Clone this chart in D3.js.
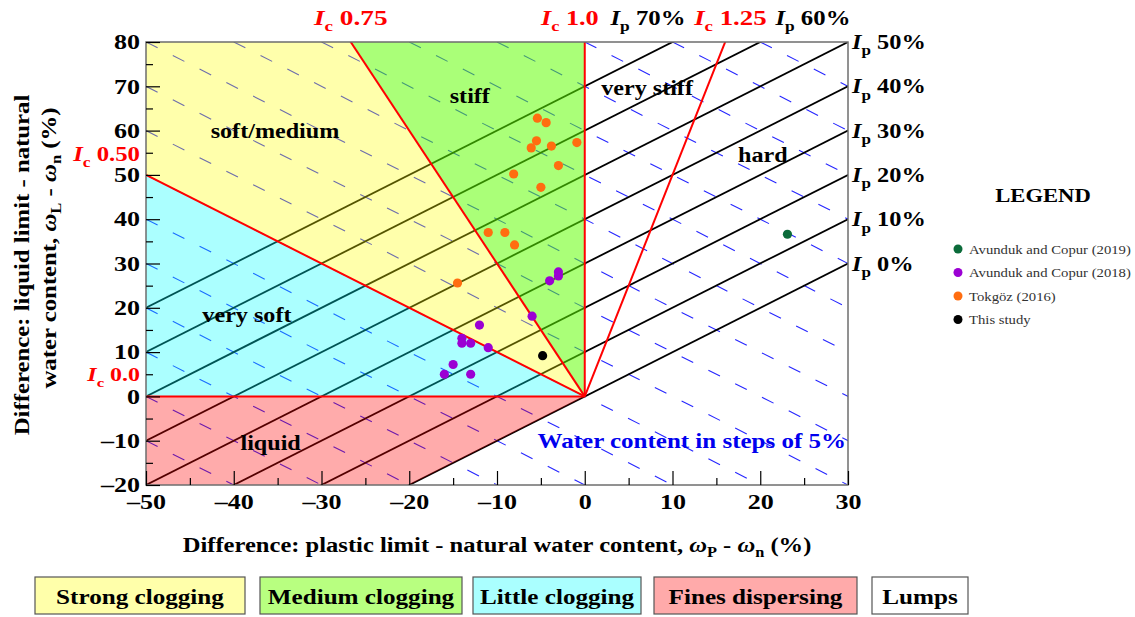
<!DOCTYPE html>
<html>
  <head>
    <meta charset="utf-8" />
    <title>Consistency chart</title>
    <script src="https://cdn.jsdelivr.net/npm/d3@7"></script>
    <style>
      body { margin: 0; background: #fff; }
      svg { display: block; font-family: "Liberation Serif", "Times New Roman", serif; }
    </style>
  </head>
  <body>
    <div id="canvas"></div>
    <script>
      // data (x = wP - wn, y = wL - wn)
      const tokgoz2016 = [
        [-5.4, 62.8], [-4.4, 61.8], [-5.5, 57.7], [-6.1, 56.1], [-3.8, 56.5],
        [-0.9, 57.3], [-3.0, 52.1], [-8.1, 50.2], [-5.0, 47.2], [-11.0, 37.0],
        [-9.1, 37.0], [-8.0, 34.2], [-14.5, 25.6]
      ];
      const avunduk2018 = [
        [-3.0, 28.1], [-3.0, 27.2], [-4.0, 26.1], [-6.0, 18.1], [-12.0, 16.1],
        [-14.0, 13.1], [-14.0, 12.0], [-13.0, 12.0], [-11.0, 11.0], [-15.0, 7.2],
        [-16.0, 5.0], [-13.0, 5.0]
      ];
      const avunduk2019 = [[23.1, 36.6]];
      const thisStudy = [[-4.8, 9.2]];

      const xTicks = [-50, -40, -30, -20, -10, 0, 10, 20, 30];
      const yTicks = [-20, -10, 0, 10, 20, 30, 40, 50, 60, 70, 80];
      const ipLevels = [0, 10, 20, 30, 40, 50, 60, 70];
      const ipLabels = [0, 10, 20, 30, 40, 50];
      const icLevels = [0, 0.5, 0.75, 1.0, 1.25];
      const waterOffsets = [-70, -60, -50, -40, -30, -20, -10, 0, 10, 20, 30, 40, 50, 60, 70, 80, 90, 100, 110, 120, 130];

      const zones = [
        { name: "strong", fill: "#ffff00", op: 0.33, pts: [[0, 0], [-50, 50], [-50, 80], [-80 / 3, 80]] },
        { name: "medium", fill: "#5eff00", op: 0.53, pts: [[0, 0], [-80 / 3, 80], [0, 80]] },
        { name: "little", fill: "#00ffff", op: 0.33, pts: [[0, 0], [-50, 0], [-50, 50]] },
        { name: "fines", fill: "#ff0000", op: 0.33, pts: [[0, 0], [-20, -20], [-50, -20], [-50, 0]] }
      ];

      const zoneLabels = [
        { t: "soft/medium", x: -35.3, y: 59.9 },
        { t: "stiff", x: -13.1, y: 68 },
        { t: "very stiff", x: 7.1, y: 69.8 },
        { t: "hard", x: 20.3, y: 54.5 },
        { t: "very soft", x: -38.5, y: 18.4 },
        { t: "liquid", x: -35.8, y: -10.5 }
      ];

      const legendItems = [
        { t: "Avunduk and Copur (2019)", c: "#0b6b3a", d: avunduk2019 },
        { t: "Avunduk and Copur (2018)", c: "#9b00d3", d: avunduk2018 },
        { t: "Tokgöz (2016)", c: "#ff6d10", d: tokgoz2016 },
        { t: "This study", c: "#000000", d: thisStudy }
      ];

      const boxes = [
        { t: "Strong clogging", c: "#ffffaa", x0: 35, x1: 245 },
        { t: "Medium clogging", c: "#b8ff80", x0: 260, x1: 462 },
        { t: "Little clogging", c: "#aaffff", x0: 473, x1: 641 },
        { t: "Fines dispersing", c: "#ffaaaa", x0: 654, x1: 857 },
        { t: "Lumps", c: "#ffffff", x0: 872, x1: 968 }
      ];

      const width = 1135, height = 617;
      const x = d3.scaleLinear().domain([-50, 30]).range([146, 848]);
      const y = d3.scaleLinear().domain([-20, 80]).range([485, 42]);

      // the original lettering is wider than Liberation Serif, stretch it a bit
      function stretch(t, sx, rot) {
        const x0 = +t.attr("x") || 0, y0 = +t.attr("y") || 0;
        t.attr("x", 0).attr("y", 0)
          .attr("transform", `translate(${x0},${y0})${rot ? " rotate(" + rot + ")" : ""} scale(${sx},1)`);
        return t;
      }

      const svg = d3.select("#canvas").append("svg")
        .attr("width", width).attr("height", height)
        .attr("viewBox", [0, 0, width, height]);

      svg.append("defs").append("clipPath").attr("id", "plotclip")
        .append("rect")
        .attr("x", x(-50)).attr("y", y(80))
        .attr("width", x(30) - x(-50)).attr("height", y(-20) - y(80));

      const plot = svg.append("g").attr("clip-path", "url(#plotclip)");
      const line = d3.line().x((d) => x(d[0])).y((d) => y(d[1]));

      // water content lines (x + y = const), dashes start where they enter the frame
      plot.append("g")
        .selectAll("path").data(waterOffsets).join("path")
        .attr("d", (c) => {
          const start = c + 50 <= 80 ? [-50, c + 50] : [c - 80, 80];
          return line([start, [start[0] + 100, start[1] - 100]]);
        })
        .attr("fill", "none")
        .attr("stroke", "#2626ff")
        .attr("stroke-width", 1.1)
        .attr("stroke-dasharray", "13,17");

      // Ip lines (y = x + Ip)
      plot.append("g")
        .selectAll("path").data(ipLevels).join("path")
        .attr("d", (ip) => line([[-100, -100 + ip], [100, 100 + ip]]))
        .attr("fill", "none")
        .attr("stroke", "#000")
        .attr("stroke-width", 1.8);

      // zones, semi transparent so the lines show through tinted
      plot.append("g")
        .selectAll("path").data(zones).join("path")
        .attr("d", (d) => line(d.pts) + "Z")
        .attr("fill", (d) => d.fill)
        .attr("fill-opacity", (d) => d.op);

      // Ic lines: y = x * Ic / (Ic - 1)
      plot.append("g")
        .selectAll("path").data(icLevels).join("path")
        .attr("d", (ic) => {
          if (ic === 1) return line([[0, 0], [0, 200]]);
          const xe = ic < 1 ? -100 : 100;
          return line([[0, 0], [xe, xe * ic / (ic - 1)]]);
        })
        .attr("fill", "none")
        .attr("stroke", "#ff0000")
        .attr("stroke-width", 2);

      // points
      legendItems.forEach((s) => {
        plot.append("g")
          .selectAll("circle").data(s.d).join("circle")
          .attr("cx", (d) => x(d[0]))
          .attr("cy", (d) => y(d[1]))
          .attr("r", 4.6)
          .attr("fill", s.c);
      });

      // frame + ticks (inside)
      svg.append("rect")
        .attr("x", x(-50)).attr("y", y(80))
        .attr("width", x(30) - x(-50)).attr("height", y(-20) - y(80))
        .attr("fill", "none").attr("stroke", "#6e6e6e").attr("stroke-width", 1.5);

      const fmt = (d) => (d < 0 ? "–" + Math.abs(d) : d);
      const gx = svg.append("g").attr("transform", `translate(0,${y(-20)})`)
        .call(d3.axisBottom(x).tickValues(xTicks).tickSize(-14).tickPadding(20).tickFormat(fmt));
      const gxm = svg.append("g").attr("transform", `translate(0,${y(-20)})`)
        .call(d3.axisBottom(x).tickValues([-45, -35, -25, -15, -5, 5, 15, 25]).tickSize(-7).tickFormat(""));
      const gy = svg.append("g").attr("transform", `translate(${x(-50)},0)`)
        .call(d3.axisLeft(y).tickValues(yTicks).tickSize(-14).tickPadding(6).tickFormat(fmt));
      const gym = svg.append("g").attr("transform", `translate(${x(-50)},0)`)
        .call(d3.axisLeft(y).tickValues([-15, -5, 5, 15, 25, 35, 45, 55, 65, 75]).tickSize(-7).tickFormat(""));
      [gx, gxm, gy, gym].forEach((g) => {
        g.select(".domain").remove();
        g.selectAll("line").attr("stroke", "#000").attr("stroke-width", 1.2);
        g.selectAll("text").attr("fill", "#000")
          .attr("font-family", "Liberation Serif").attr("font-weight", "bold").attr("font-size", 21)
          .each(function () { stretch(d3.select(this), 1.24); });
      });
      gx.selectAll("text").attr("dy", "0.2em");

      // helper for I_c / I_p style labels
      function symLabel(g, sym, sub, rest, color, size, anchor) {
        const t = g.append("text").attr("fill", color).attr("font-size", size)
          .attr("font-weight", "bold").attr("text-anchor", anchor || "start");
        t.append("tspan").attr("font-style", "italic").text(sym);
        t.append("tspan").attr("font-size", size * 0.7).attr("dy", size * 0.3).text(sub);
        t.append("tspan").attr("dy", -size * 0.3).text(" " + rest);
        return t;
      }

      // top labels
      const topLabels = svg.append("g");
      [
        { s: "c", r: "0.75", c: "#ff0000", xv: -26.67, sx: 1.3 },
        { s: "c", r: "1.0", c: "#ff0000", xv: -1.7, sx: 1.25 },
        { s: "p", r: "70%", c: "#000", xv: 7.2, sx: 1.18 },
        { s: "c", r: "1.25", c: "#ff0000", xv: 16.6, sx: 1.28 },
        { s: "p", r: "60%", c: "#000", xv: 26, sx: 1.18 }
      ].forEach((d) => {
        const t = symLabel(topLabels, "I", d.s, d.r, d.c, 21, "middle")
          .attr("x", x(d.xv)).attr("y", 25);
        stretch(t, d.sx);
      });

      // right Ip labels at the line ends (x = 30)
      ipLabels.forEach((ip) => {
        const t = symLabel(svg, "I", "p", ip + "%", "#000", 21, "start")
          .attr("x", x(30) + 4).attr("y", y(30 + ip) + 7);
        stretch(t, 1.16);
      });

      // left Ic labels
      stretch(symLabel(svg, "I", "c", "0.50", "#ff0000", 21, "end").attr("x", 140).attr("y", 161), 1.18);
      stretch(symLabel(svg, "I", "c", "0.0", "#ff0000", 19, "end").attr("x", 140).attr("y", 381), 1.26);

      // zone names
      svg.append("g").selectAll("text").data(zoneLabels).join("text")
        .attr("x", (d) => x(d.x)).attr("y", (d) => y(d.y))
        .attr("text-anchor", "middle").attr("dy", "0.35em")
        .attr("font-size", 21).attr("font-weight", "bold")
        .text((d) => d.t)
        .each(function () { stretch(d3.select(this), 1.15); });

      stretch(svg.append("text")
        .attr("x", x(30) - 2).attr("y", y(-10) + 7)
        .attr("text-anchor", "end").attr("fill", "#0000ee")
        .attr("font-size", 21).attr("font-weight", "bold")
        .text("Water content in steps of 5%"), 1.19);

      // axis titles
      const xt = svg.append("text").attr("x", 497).attr("y", 552)
        .attr("text-anchor", "middle").attr("font-size", 21).attr("font-weight", "bold");
      xt.append("tspan").text("Difference: plastic limit - natural water content, ");
      xt.append("tspan").attr("font-style", "italic").text("ω");
      xt.append("tspan").attr("font-size", 14).attr("dy", 5).text("P");
      xt.append("tspan").attr("dy", -5).text(" - ");
      xt.append("tspan").attr("font-style", "italic").text("ω");
      xt.append("tspan").attr("font-size", 14).attr("dy", 5).text("n");
      xt.append("tspan").attr("dy", -5).text(" (%)");
      stretch(xt, 1.17);

      const yt1 = svg.append("text").attr("x", 29).attr("y", 265)
        .attr("text-anchor", "middle").attr("font-size", 21).attr("font-weight", "bold")
        .text("Difference: liquid limit - natural");
      stretch(yt1, 1.18, -90);
      const yt = svg.append("text").attr("x", 56).attr("y", 248)
        .attr("text-anchor", "middle").attr("font-size", 21).attr("font-weight", "bold");
      yt.append("tspan").text("water content, ");
      yt.append("tspan").attr("font-style", "italic").text("ω");
      yt.append("tspan").attr("font-size", 14).attr("dy", 5).text("L");
      yt.append("tspan").attr("dy", -5).text(" - ");
      yt.append("tspan").attr("font-style", "italic").text("ω");
      yt.append("tspan").attr("font-size", 14).attr("dy", 5).text("n");
      yt.append("tspan").attr("dy", -5).text(" (%)");
      stretch(yt, 1.18, -90);

      // right legend
      const lg = svg.append("g");
      stretch(lg.append("text").attr("x", 1043).attr("y", 202).attr("text-anchor", "middle")
        .attr("font-size", 19).attr("font-weight", "bold").text("LEGEND"), 1.19);
      const li = lg.selectAll("g.item").data(legendItems).join("g")
        .attr("transform", (d, i) => `translate(958,${249 + i * 23.5})`);
      li.append("circle").attr("r", 4.5).attr("fill", (d) => d.c);
      li.append("text").attr("x", 11).attr("dy", "0.35em").attr("font-size", 13.5)
        .attr("fill", "#333").text((d) => d.t)
        .each(function () { stretch(d3.select(this), 1.09); });

      // bottom boxes
      const bx = svg.append("g").selectAll("g").data(boxes).join("g");
      bx.append("rect")
        .attr("x", (d) => d.x0).attr("y", 577)
        .attr("width", (d) => d.x1 - d.x0).attr("height", 37)
        .attr("fill", (d) => d.c).attr("stroke", "#555").attr("stroke-width", 1.2);
      bx.append("text")
        .attr("x", (d) => (d.x0 + d.x1) / 2).attr("y", 596).attr("dy", "0.35em")
        .attr("text-anchor", "middle").attr("font-size", 21.5).attr("font-weight", "bold")
        .text((d) => d.t)
        .each(function () { stretch(d3.select(this), 1.17); });
    </script>
  </body>
</html>
